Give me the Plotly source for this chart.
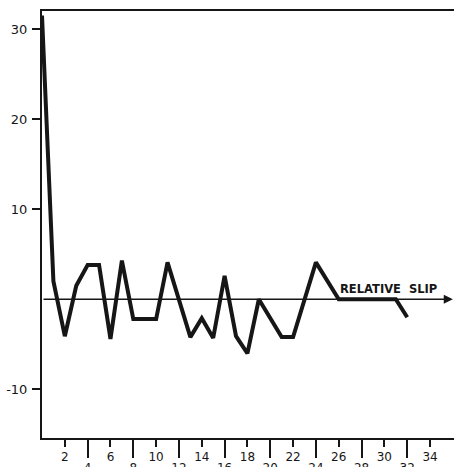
import plotly.graph_objects as go

# relative slip (x) vs response (y)
slip = [0, 1, 2, 3, 4, 5, 6, 7, 8, 10, 11, 13, 14, 15, 16, 17, 18, 19, 21, 22, 24, 26, 31, 32]
value = [31.5, 2.0, -4.1, 1.5, 3.8, 3.8, -4.4, 4.3, -2.2, -2.2, 4.1, -4.2, -2.1, -4.3, 2.6,
         -4.1, -6.0, 0.0, -4.2, -4.2, 4.1, 0.0, 0.0, -2.0]

x_upper_ticks = [2, 6, 10, 14, 18, 22, 26, 30, 34]
x_lower_ticks = [4, 8, 12, 16, 20, 24, 28, 32]
y_ticks = [30, 20, 10, -10]
y_labels = ["30", "20", "10", "-10"]

X_RANGE = [0, 36.1]
Y_RANGE = [-15.4, 32]
INK = "#161616"
XFONT = dict(family="DejaVu Sans", size=12, color=INK)
YFONT = dict(family="DejaVu Sans", size=13, color=INK)

fig = go.Figure()
fig.add_trace(go.Scatter(x=slip, y=value, mode="lines",
                         line=dict(color=INK, width=4), xaxis="x", yaxis="y"))
# empty trace so the second x axis is drawn
fig.add_trace(go.Scatter(x=[None], y=[None], xaxis="x2", yaxis="y", showlegend=False))

# relative slip axis with arrow
fig.add_annotation(x=36.0, y=0, ax=0, ay=0, xref="x", yref="y", axref="x", ayref="y",
                   showarrow=True, arrowhead=2, arrowsize=1.3, arrowwidth=1.4,
                   arrowcolor=INK, text="")
fig.add_annotation(x=25.9, y=1.1, xref="x", yref="y", xanchor="left", yanchor="middle",
                   text="<b>RELATIVE\u00a0\u00a0SLIP</b>", showarrow=False,
                   font=dict(family="DejaVu Sans", size=11.5, color=INK))

fig.update_layout(
    width=454, height=467,
    margin=dict(l=42, r=0, t=11, b=29, autoexpand=False),
    showlegend=False,
    hovermode=False,
    paper_bgcolor="white", plot_bgcolor="white",
    xaxis=dict(range=X_RANGE, showgrid=False, zeroline=False, automargin=False,
               showline=True, linecolor=INK, linewidth=2, mirror=True,
               ticks="outside", ticklen=7, tickwidth=1.5, tickcolor=INK,
               tickvals=x_upper_ticks, ticktext=[str(v) for v in x_upper_ticks],
               ticklabelstandoff=0, tickfont=XFONT),
    xaxis2=dict(range=X_RANGE, overlaying="x", anchor="y", side="bottom",
                showgrid=False, zeroline=False, showline=False, automargin=False,
                ticks="outside", ticklen=19, tickwidth=1.5, tickcolor=INK,
                tickvals=x_lower_ticks, ticktext=[str(v) for v in x_lower_ticks],
                ticklabelstandoff=0, tickfont=XFONT),
    yaxis=dict(range=Y_RANGE, showgrid=False, zeroline=False, automargin=False,
               showline=True, linecolor=INK, linewidth=2,
               ticks="outside", ticklen=8, tickwidth=1.5, tickcolor=INK,
               tickvals=y_ticks, ticktext=y_labels, ticklabelstandoff=2, tickfont=YFONT),
)

# page has a default body margin; drop it so the figure fills the window
fig.write_html("out.html", config={"displayModeBar": False},
               post_script="document.body.style.margin='0';")
